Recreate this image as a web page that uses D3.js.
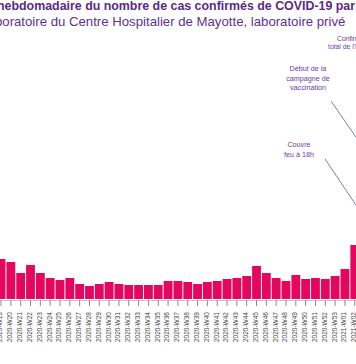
<!DOCTYPE html>
<html>
<head>
<meta charset="utf-8">
<script src="https://cdn.jsdelivr.net/npm/d3@7/dist/d3.min.js"></script>
<style>
  html, body { margin: 0; padding: 0; background: #fff; }
  svg { display: block; font-family: "Liberation Sans", Arial, sans-serif; }
</style>
</head>
<body>
<svg id="chart" width="356" height="364"></svg>
<script>
// ---- Data ----
const weeks = [
  "2020-W19","2020-W20","2020-W21","2020-W22","2020-W23","2020-W24","2020-W25","2020-W26",
  "2020-W27","2020-W28","2020-W29","2020-W30","2020-W31","2020-W32","2020-W33","2020-W34",
  "2020-W35","2020-W36","2020-W37","2020-W38","2020-W39","2020-W40","2020-W41","2020-W42",
  "2020-W43","2020-W44","2020-W45","2020-W46","2020-W47","2020-W48","2020-W49","2020-W50",
  "2020-W51","2020-W52","2020-W53","2021-W01","2021-W02"
];
const cases = [
  240,222,156,204,156,126,114,126,
  90,78,90,102,90,84,84,84,
  84,108,108,102,90,102,108,120,
  126,138,198,156,126,108,144,120,
  126,120,138,180,324
];
const titleLine1 = "hebdomadaire du nombre de cas confirmés de COVID-19 par";
const titleLine2 = "laboratoire du Centre Hospitalier de Mayotte, laboratoire privé";
const annotations = [
  { lines: ["Confinement", "total de l'île"] },
  { lines: ["Début de la", "campagne de", "vaccination"] },
  { lines: ["Couvre", "feu à 18h"] }
];

// ---- Chart ----
const svg = d3.select("#chart");
const baseY = 299;

const x = d3.scaleBand().domain(weeks).range([-3.4, -3.4 + weeks.length * 9.8]).paddingInner(0.1).paddingOuter(0);
const y = d3.scaleLinear().domain([0, 1800]).range([baseY, -1]);

// bars
svg.append("g").selectAll("rect").data(weeks).join("rect")
  .attr("x", d => x(d))
  .attr("y", (d, i) => y(cases[i]))
  .attr("width", x.bandwidth())
  .attr("height", (d, i) => baseY - y(cases[i]))
  .attr("fill", "#e5075e");

// x axis
const axis = svg.append("g").attr("transform", `translate(0,${baseY + 1})`)
  .call(d3.axisBottom(x).tickSize(6).tickPadding(6).tickSizeOuter(0));
axis.select(".domain").attr("stroke", "#c8c8c8");
axis.selectAll(".tick line").attr("stroke", "#8a8a8a");
axis.selectAll(".tick text")
  .attr("font-size", "6.5px")
  .attr("fill", "#444")
  .attr("font-family", "'Liberation Sans', Arial, sans-serif")
  .attr("transform", "rotate(-90)")
  .attr("text-anchor", "end")
  .attr("dx", "-6")
  .attr("dy", "-0.05em")
  .attr("x", -6)
  .attr("y", 0)
  .style("dominant-baseline", "middle");

// title
svg.append("text").attr("x", -3).attr("y", 10)
  .attr("font-size", "12.4px").attr("font-weight", "bold").attr("fill", "#5a2a86")
  .text(titleLine1);
svg.append("text").attr("x", -15.3).attr("y", 26)
  .attr("font-size", "13.2px").attr("fill", "#5e3191")
  .text(titleLine2);

// annotations
const annPos = [
  { x: 337, y: 41, anchor: "start", dy: 7.6 },
  { x: 308, y: 71, anchor: "middle", dy: 9.5 },
  { x: 299, y: 147, anchor: "middle", dy: 9.5 }
];
annotations.forEach((a, k) => {
  const p = annPos[k];
  const t = svg.append("text").attr("font-size", k === 0 ? "6.8px" : "7.2px").attr("fill", "#6a3d9e")
    .attr("text-anchor", p.anchor);
  a.lines.forEach((ln, j) => {
    t.append("tspan").attr("x", p.x - (k === 0 && j === 1 ? 9 : 0)).attr("y", p.y + j * p.dy).text(ln);
  });
});

// annotation leader lines
const leaders = [
  [[331, 101], [360, 143]],
  [[325, 159], [360, 211]]
];
leaders.forEach(l => {
  svg.append("line")
    .attr("x1", l[0][0]).attr("y1", l[0][1]).attr("x2", l[1][0]).attr("y2", l[1][1])
    .attr("stroke", "#7c82a6").attr("stroke-width", 1);
});
</script>
</body>
</html>
